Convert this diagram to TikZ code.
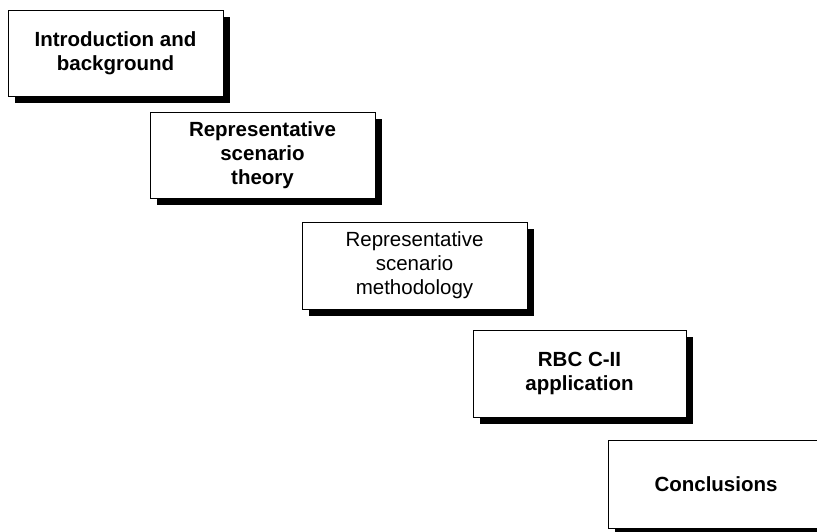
\documentclass[tikz,border=0pt]{standalone}
\usepackage{fontspec}
\setmainfont{Liberation Sans}
\usepackage{tikz}
\usetikzlibrary{shadows}
\tikzset{
    stage/.style={draw=black, line width=1pt, fill=white, align=center, inner sep=0pt,
        font=\fontsize{20.5}{24}\selectfont\bfseries,
        drop shadow={shadow xshift=7pt, shadow yshift=-7pt, fill=black, opacity=1}},
    stagelight/.style={stage, font=\fontsize{20.5}{24}\selectfont\mdseries}
}
\begin{document}
\begin{tikzpicture}[x=1pt, y=-1pt]
    % Page frame
    \useasboundingbox (0,0) rectangle (817,531);
    \clip (0,0) rectangle (817,531);

    % Staircase of stages
    \node[stage, minimum width=215pt, minimum height=86pt] (intro) at (115.5,53) {Introduction and\\background};
    \node[stage, minimum width=225pt, minimum height=86pt] (theory) at (262.5,155) {Representative\\scenario\\theory};
    \node[stagelight, minimum width=225pt, minimum height=87pt] (method) at (414.5,265.5) {Representative\\scenario\\methodology};
    \node[stage, minimum width=213pt, minimum height=87pt] (appl) at (579.5,373.5) {RBC C-II\\application};
    \node[stage, minimum width=216pt, minimum height=88pt] (concl) at (716,484) {Conclusions};
\end{tikzpicture}
\end{document}
